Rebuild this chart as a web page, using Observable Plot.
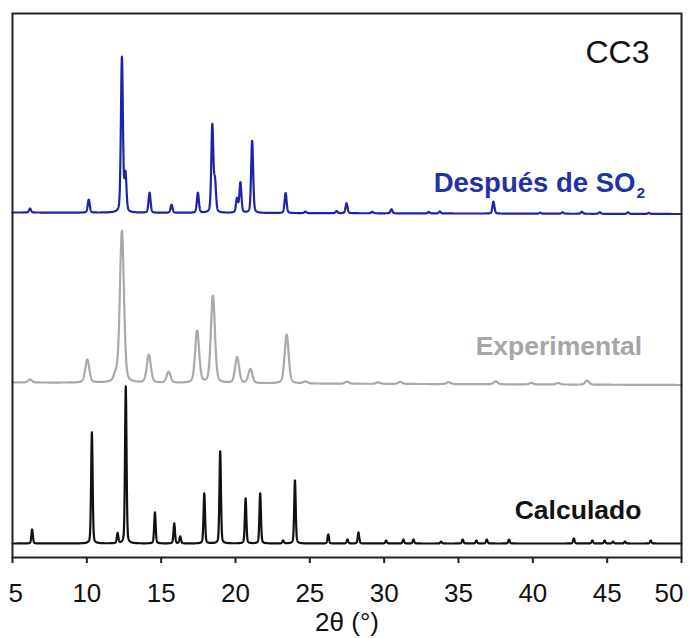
<!DOCTYPE html>
<html><head><meta charset="utf-8">
<script src="https://cdn.jsdelivr.net/npm/d3@7"></script>
<script src="https://cdn.jsdelivr.net/npm/@observablehq/plot@0.6"></script>
<style>body{margin:0;background:#fff} svg{display:block}</style>
</head><body><div id="chart"></div>
<script>
// X axis ticks (2θ, degrees)
const xTicks = [5, 10, 15, 20, 25, 30, 35, 40, 45, 50];

// Peak lists: position (2θ) and intensity (relative units)
const calcPos = [6.32, 10.34, 12.07, 12.62, 14.58, 15.88, 16.28, 17.9, 18.97, 20.68, 21.66, 23.2, 24.0, 26.24, 27.53, 28.27, 30.13, 31.29, 31.97, 33.83, 35.28, 36.2, 36.9, 38.4, 42.76, 44.0, 44.83, 45.4, 46.2, 47.93];
const calcInt = [14, 111, 10, 157, 31, 20, 7, 50, 92, 45, 50, 3, 63, 9, 4, 11, 3, 4, 4, 2, 4, 3, 4, 4, 5, 3, 3, 2, 2, 3];

const expPos = [6.18, 10.03, 11.95, 12.36, 14.17, 15.5, 17.42, 18.48, 20.11, 21.0, 23.44, 24.7, 27.5, 29.6, 31.08, 34.33, 37.5, 39.9, 41.7, 43.65];
const expInt = [3, 23, 7, 152, 28, 11, 52, 87, 26, 14, 49, 2, 2, 1.5, 2, 2, 3, 1.5, 1.5, 4];

const despPos = [6.18, 10.13, 12.36, 12.6, 14.22, 15.7, 17.47, 18.44, 18.62, 20.1, 20.33, 21.12, 23.37, 24.7, 26.8, 27.47, 29.2, 30.49, 33.0, 33.74, 37.35, 40.5, 42.0, 43.3, 44.5, 46.4, 47.8];
const despInt = [4, 13, 155, 37, 20, 8, 20, 87, 30, 14, 30, 72, 20, 1.5, 2, 10, 1.5, 4, 1.5, 2, 12, 1, 1.5, 2, 1.5, 1.5, 1];

const seriesNames = ["Calculado", "Experimental", "Después de SO2"];
const seriesOffset = [14, 175, 345];     // vertical stacking offset of each pattern
const seriesDrift = [0, -2.5, -1.5];     // baseline drift from 5° to 50°
const seriesFwhm = [0.12, 0.32, 0.16];   // peak width (°)
const seriesColor = ["#111111", "#a9a9a9", "#1d24a8"];
const labelColor = ["#111111", "#a6a6a6", "#1f33a6"];

const peakSets = [[calcPos, calcInt], [expPos, expInt], [despPos, despInt]];

function profile(x, pos, inten, w) {
  let s = 0;
  const eta = 0.3;
  for (let i = 0; i < pos.length; i++) {
    const d = (x - pos[i]) / (w / 2);
    const L = 1 / (1 + d * d);
    const G = Math.exp(-Math.LN2 * d * d);
    s += inten[i] * (eta * L + (1 - eta) * G);
  }
  return s;
}

const rows = [];
seriesNames.forEach((name, k) => {
  const [pos, inten] = peakSets[k];
  for (let i = 0; i <= 4500; i++) {
    const x = 5 + i * 0.01;
    rows.push({series: name, x, y: seriesOffset[k] + seriesDrift[k] * (x - 5) / 45 + profile(x, pos, inten, seriesFwhm[k])});
  }
});

const font = "Liberation Sans, Arial, Helvetica, sans-serif";
const midTicks = xTicks.slice(1, -1);

const chart = Plot.plot({
  width: 689,
  height: 638,
  marginLeft: 12,
  marginRight: 8,
  marginTop: 13,
  marginBottom: 81,
  style: {fontFamily: font, background: "#fff"},
  x: {domain: [5, 50]},
  y: {domain: [0, 544], axis: null},
  color: {domain: seriesNames, range: seriesColor},
  marks: [
    Plot.line(rows, {x: "x", y: "y", z: "series", stroke: "series", strokeWidth: 2.2}),
    Plot.frame({stroke: "#222", strokeWidth: 2}),
    Plot.axisX({ticks: xTicks, tickSize: 6, strokeWidth: 2, stroke: "#222", tickFormat: () => "", label: null}),
    Plot.text(midTicks, {x: d => d, frameAnchor: "bottom", lineAnchor: "top", dy: 26, fontSize: 26, fill: "#111"}),
    Plot.text([xTicks[0]], {x: d => d, frameAnchor: "bottom", lineAnchor: "top", dy: 26, dx: -4, textAnchor: "start", fontSize: 26, fill: "#111"}),
    Plot.text([xTicks[xTicks.length - 1]], {x: d => d, frameAnchor: "bottom", lineAnchor: "top", dy: 26, dx: 2, textAnchor: "end", fontSize: 26, fill: "#111"}),
    Plot.text(["2θ (°)"], {frameAnchor: "bottom", lineAnchor: "top", dy: 55, fontSize: 26, fill: "#111"}),
    Plot.text(["CC3"], {frameAnchor: "top-right", lineAnchor: "top", textAnchor: "end", dx: -32, dy: 27, fontSize: 32, fill: "#111"}),
    // series labels
    Plot.text(["Calculado"], {x: 47.3, y: 39, textAnchor: "end", lineAnchor: "bottom", fontSize: 26.5, fontWeight: "bold", fill: labelColor[0]}),
    Plot.text(["Experimental"], {x: 47.35, y: 203, textAnchor: "end", lineAnchor: "bottom", fontSize: 26.5, fontWeight: "bold", fill: labelColor[1]}),
    Plot.text(["Después de SO"], {x: 46.9, y: 366, textAnchor: "end", lineAnchor: "bottom", fontSize: 27.5, fontWeight: "bold", fill: labelColor[2]}),
    Plot.text(["2"], {x: 46.9, y: 366, textAnchor: "start", lineAnchor: "bottom", dx: 1, dy: 6, fontSize: 15.5, fontWeight: "bold", fill: labelColor[2]})
  ]
});
document.getElementById("chart").appendChild(chart);
</script>
</body></html>
